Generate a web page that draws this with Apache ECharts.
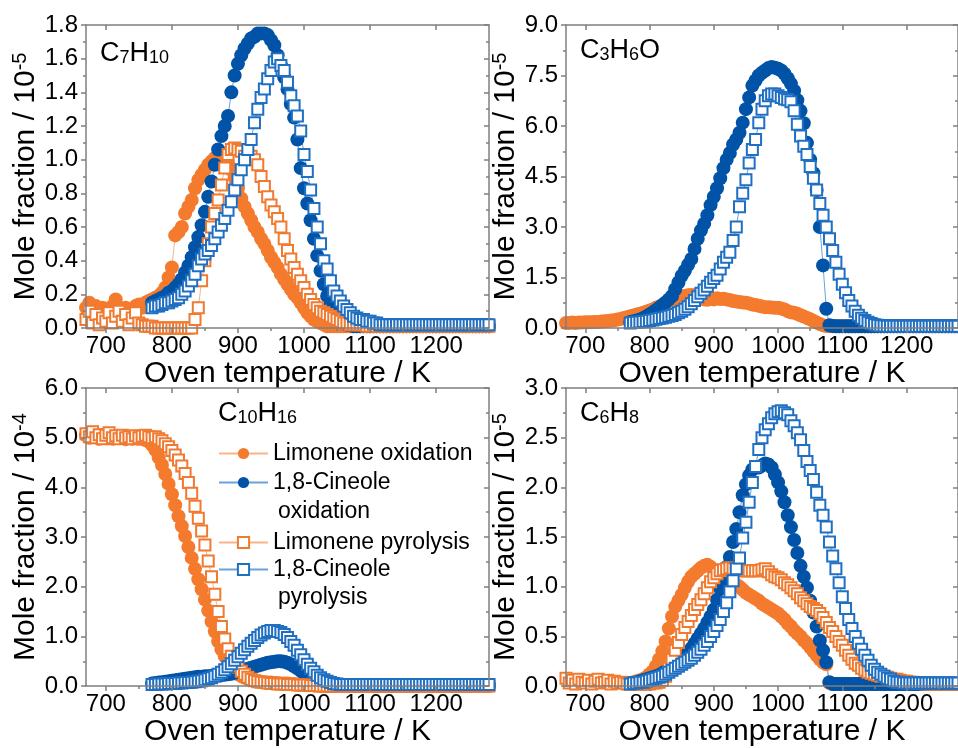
<!DOCTYPE html>
<html>
<head>
<meta charset="utf-8">
<script src="https://cdn.jsdelivr.net/npm/echarts@6/dist/echarts.min.js"></script>
<style>
html, body { margin: 0; padding: 0; background: #fff; }
#main { width: 958px; height: 748px; }
</style>
</head>
<body>
<div id="main"></div>
<script>
// oven temperatures (K): limonene runs start at 670 K, cineole runs at 770 K
var tempsLim = [
  670,675,680,685,690,695,700,705,710,715,
  720,725,730,735,740,745,750,755,760,765,
  770,775,780,785,790,795,800,805,810,815,
  820,825,830,835,840,845,850,855,860,865,
  870,875,880,885,890,895,900,905,910,915,
  920,925,930,935,940,945,950,955,960,965,
  970,975,980,985,990,995,1000,1005,1010,1015,
  1020,1025,1030,1035,1040,1045,1050,1055,1060,1065,
  1070,1075,1080,1085,1090,1095,1100,1105,1110,1115,
  1120,1125,1130,1135,1140,1145,1150,1155,1160,1165,
  1170,1175,1180,1185,1190,1195,1200,1205,1210,1215,
  1220,1225,1230,1235,1240,1245,1250,1255,1260,1265,
  1270,1275,1280
];
var tempsCin = tempsLim.slice(20);

var xTicks = [700, 800, 900, 1000, 1100, 1200];
var xMinorTicks = [750, 850, 950, 1050, 1150, 1250];

// ---- C7H10 (1e-5) ----
var c7h10LimOx = [
  0.12,0.15,0.10,0.13,0.11,0.12,0.10,0.09,0.13,0.17,
  0.11,0.10,0.12,0.09,0.11,0.13,0.14,0.12,0.15,0.16,
  0.17,0.18,0.19,0.21,0.24,0.30,0.36,0.55,0.57,0.60,
  0.68,0.72,0.76,0.83,0.88,0.91,0.94,0.97,0.99,1.01,
  1.02,1.03,1.02,0.98,0.94,0.89,0.83,0.77,0.72,0.68,
  0.64,0.60,0.57,0.53,0.50,0.46,0.42,0.39,0.36,0.32,
  0.29,0.26,0.23,0.20,0.18,0.15,0.12,0.09,0.07,0.05,
  0.04,0.03,0.02,0.01,0.01,0.01,0.01,0.01,0.01,0.01,
  0.01,0.01,0.01,0.01,0.01,0.01,0.01,0.01,0.01,0.01,
  0.01,0.01,0.01,0.01,0.01,0.01,0.01,0.01,0.01,0.01,
  0.01,0.01,0.01,0.01,0.01,0.01,0.01,0.01,0.01,0.01,
  0.01,0.01,0.01,0.01,0.01,0.01,0.01,0.01,0.01,0.01,
  0.01,0.01,0.01
];
var c7h10CinOx = [
  0.15,0.16,0.17,0.18,0.19,0.21,0.22,0.24,0.26,0.29,
  0.33,0.37,0.42,0.48,0.54,0.61,0.69,0.78,0.87,0.97,
  1.06,1.14,1.20,1.26,1.40,1.50,1.57,1.62,1.66,1.69,
  1.72,1.73,1.75,1.75,1.75,1.74,1.71,1.68,1.62,1.56,
  1.49,1.42,1.33,1.25,1.12,0.95,0.83,0.74,0.64,0.53,
  0.43,0.34,0.26,0.19,0.14,0.10,0.07,0.05,0.03,0.02,
  0.02,0.01,0.01,0.01,0.01,0.01,0.01,0.01,0.01,0.01,
  0.01,0.01,0.01,0.01,0.01,0.01,0.01,0.01,0.01,0.01,
  0.01,0.01,0.01,0.01,0.01,0.01,0.01,0.01,0.01,0.01,
  0.01,0.01,0.01,0.01,0.01,0.01,0.01,0.01,0.01,0.01,
  0.01,0.01,0.01
];
var c7h10LimPy = [
  0.05,0.10,0.03,0.08,0.02,0.06,0.04,0.09,0.03,0.07,
  0.10,0.04,0.08,0.02,0.06,0.09,0.03,0.02,0.01,0.01,
  0.01,0.00,0.00,0.00,0.00,0.00,0.00,0.00,0.00,0.00,
  0.00,0.00,0.00,0.05,0.12,0.28,0.40,0.50,0.60,0.68,
  0.76,0.85,0.95,1.03,1.06,1.07,1.06,1.05,1.02,1.01,
  1.02,1.00,0.97,0.90,0.84,0.78,0.73,0.69,0.65,0.60,
  0.53,0.46,0.41,0.36,0.32,0.28,0.24,0.20,0.17,0.14,
  0.12,0.10,0.09,0.08,0.07,0.06,0.05,0.04,0.03,0.03,
  0.02,0.02,0.02,0.02,0.02,0.01,0.01,0.01,0.01,0.01,
  0.01,0.01,0.01,0.01,0.01,0.01,0.01,0.01,0.01,0.01,
  0.01,0.01,0.01,0.01,0.01,0.01,0.01,0.01,0.01,0.01,
  0.01,0.01,0.01,0.01,0.01,0.01,0.01,0.01,0.01,0.01,
  0.01,0.01,0.01
];
var c7h10CinPy = [
  0.12,0.13,0.13,0.14,0.15,0.15,0.16,0.17,0.18,0.20,
  0.22,0.25,0.28,0.32,0.37,0.41,0.44,0.46,0.49,0.53,
  0.57,0.61,0.65,0.70,0.75,0.82,0.88,0.94,1.00,1.06,
  1.12,1.22,1.30,1.37,1.42,1.48,1.53,1.58,1.60,1.56,
  1.53,1.46,1.38,1.32,1.26,1.17,1.03,0.93,0.82,0.71,
  0.60,0.50,0.40,0.35,0.28,0.22,0.19,0.16,0.13,0.11,
  0.09,0.07,0.06,0.05,0.05,0.04,0.04,0.03,0.03,0.02,
  0.02,0.02,0.02,0.02,0.02,0.02,0.02,0.02,0.02,0.02,
  0.02,0.02,0.02,0.02,0.02,0.02,0.02,0.02,0.02,0.02,
  0.02,0.02,0.02,0.02,0.02,0.02,0.02,0.02,0.02,0.02,
  0.02,0.02,0.02
];

// ---- C3H6O (1e-5) ----
var c3h6oLimOx = [
  0.15,0.15,0.16,0.15,0.16,0.16,0.17,0.17,0.17,0.18,
  0.18,0.19,0.20,0.21,0.22,0.23,0.25,0.27,0.30,0.32,
  0.35,0.37,0.40,0.42,0.45,0.48,0.52,0.55,0.60,0.64,
  0.68,0.72,0.76,0.80,0.84,0.88,0.92,0.95,0.97,0.98,
  0.97,0.93,0.88,0.85,0.84,0.86,0.85,0.88,0.86,0.87,
  0.85,0.83,0.80,0.79,0.77,0.76,0.75,0.73,0.70,0.68,
  0.66,0.64,0.62,0.62,0.61,0.60,0.60,0.58,0.55,0.50,
  0.47,0.45,0.42,0.38,0.34,0.30,0.26,0.21,0.16,0.12,
  0.08,0.06,0.05,0.05,0.05,0.05,0.05,0.05,0.05,0.05,
  0.05,0.05,0.05,0.05,0.05,0.05,0.05,0.05,0.05,0.05,
  0.05,0.05,0.05,0.05,0.05,0.05,0.05,0.05,0.05,0.05,
  0.05,0.05,0.05,0.05,0.05,0.05,0.05,0.05,0.05,0.05,
  0.05,0.05,0.05
];
var c3h6oCinOx = [
  0.18,0.20,0.22,0.25,0.29,0.34,0.40,0.46,0.53,0.60,
  0.68,0.76,0.85,0.95,1.15,1.35,1.55,1.70,1.88,2.05,
  2.35,2.65,2.90,3.10,3.35,3.65,3.90,4.15,4.45,4.75,
  5.00,5.20,5.45,5.60,5.80,6.10,6.50,6.85,7.20,7.35,
  7.50,7.58,7.65,7.72,7.75,7.73,7.70,7.65,7.55,7.42,
  7.26,7.05,6.77,6.45,6.08,5.50,5.00,4.60,4.10,3.00,
  1.86,0.57,0.08,0.06,0.05,0.05,0.05,0.05,0.05,0.05,
  0.05,0.05,0.05,0.05,0.05,0.05,0.05,0.05,0.05,0.05,
  0.05,0.05,0.05,0.05,0.05,0.05,0.05,0.05,0.05,0.05,
  0.05,0.05,0.05,0.05,0.05,0.05,0.05,0.05,0.05,0.05,
  0.05,0.05,0.05
];
var c3h6oCinPy = [
  0.15,0.16,0.17,0.18,0.19,0.20,0.22,0.24,0.26,0.28,
  0.30,0.32,0.35,0.37,0.40,0.45,0.50,0.56,0.63,0.72,
  0.82,0.93,1.03,1.13,1.24,1.36,1.47,1.57,1.75,1.95,
  2.10,2.25,2.60,3.00,3.60,4.00,4.40,4.90,5.30,5.60,
  6.10,6.50,6.75,6.90,6.95,6.95,6.90,6.85,6.80,6.78,
  6.72,6.45,6.05,5.70,5.40,5.15,4.80,4.45,4.10,3.70,
  3.35,3.00,2.65,2.30,1.95,1.60,1.30,1.05,0.82,0.65,
  0.50,0.38,0.29,0.22,0.17,0.13,0.10,0.08,0.07,0.06,
  0.05,0.05,0.05,0.05,0.05,0.05,0.05,0.05,0.05,0.05,
  0.05,0.05,0.05,0.05,0.05,0.05,0.05,0.05,0.05,0.05,
  0.05,0.05,0.05
];

// ---- C10H16 (1e-4) ----
var c10h16LimOx = [
  5.05,5.00,5.08,5.02,4.98,5.05,5.00,5.04,4.98,5.02,
  5.00,5.03,4.97,5.00,4.98,5.02,4.98,4.98,4.95,4.92,
  4.85,4.75,4.60,4.45,4.27,4.07,3.86,3.64,3.42,3.22,
  3.02,2.80,2.58,2.36,2.15,1.95,1.74,1.52,1.30,1.10,
  0.90,0.74,0.60,0.48,0.38,0.30,0.24,0.20,0.17,0.15,
  0.13,0.11,0.10,0.09,0.08,0.07,0.07,0.06,0.06,0.05,
  0.05,0.05,0.04,0.04,0.03,0.03,0.03,0.02,0.02,0.01,
  0.01,0.00,0.00,0.00,0.00,0.00,0.00,0.00,0.00,0.00,
  0.00,0.00,0.00,0.00,0.00,0.00,0.00,0.00,0.00,0.00,
  0.00,0.00,0.00,0.00,0.00,0.00,0.00,0.00,0.00,0.00,
  0.00,0.00,0.00,0.00,0.00,0.00,0.00,0.00,0.00,0.00,
  0.00,0.00,0.00,0.00,0.00,0.00,0.00,0.00,0.00,0.00,
  0.00,0.00,0.00
];
var c10h16CinOx = [
  0.05,0.06,0.07,0.08,0.09,0.10,0.11,0.12,0.13,0.14,
  0.15,0.16,0.17,0.18,0.19,0.19,0.20,0.20,0.21,0.21,
  0.22,0.22,0.23,0.24,0.25,0.27,0.29,0.31,0.33,0.35,
  0.37,0.39,0.41,0.43,0.45,0.47,0.48,0.49,0.50,0.50,
  0.49,0.47,0.44,0.40,0.36,0.31,0.26,0.21,0.16,0.12,
  0.09,0.06,0.04,0.03,0.02,0.02,0.02,0.02,0.02,0.02,
  0.02,0.02,0.02,0.02,0.02,0.02,0.02,0.02,0.02,0.02,
  0.02,0.02,0.02,0.02,0.02,0.02,0.02,0.02,0.02,0.02,
  0.02,0.02,0.02,0.02,0.02,0.02,0.02,0.02,0.02,0.02,
  0.02,0.02,0.02,0.02,0.02,0.02,0.02,0.02,0.02,0.02,
  0.02,0.02,0.02
];
var c10h16LimPy = [
  5.08,5.02,5.12,5.00,5.06,4.98,5.05,5.10,5.00,5.04,
  4.98,5.05,5.00,5.02,4.98,5.04,5.00,5.03,5.05,5.02,
  5.00,5.02,4.98,4.94,4.88,4.82,4.74,4.65,4.55,4.43,
  4.28,4.10,3.88,3.62,3.38,3.12,2.84,2.52,2.20,1.85,
  1.50,1.20,0.95,0.75,0.60,0.48,0.38,0.30,0.24,0.18,
  0.14,0.11,0.09,0.08,0.07,0.06,0.05,0.05,0.04,0.04,
  0.04,0.03,0.03,0.03,0.02,0.02,0.02,0.02,0.01,0.01,
  0.01,0.00,0.00,0.00,0.00,0.00,0.00,0.00,0.00,0.00,
  0.00,0.00,0.00,0.00,0.00,0.00,0.00,0.00,0.00,0.00,
  0.00,0.00,0.00,0.00,0.00,0.00,0.00,0.00,0.00,0.00,
  0.00,0.00,0.00,0.00,0.00,0.00,0.00,0.00,0.00,0.00,
  0.00,0.00,0.00,0.00,0.00,0.00,0.00,0.00,0.00,0.00,
  0.00,0.00,0.00
];
var c10h16CinPy = [
  0.03,0.03,0.04,0.04,0.04,0.05,0.05,0.05,0.06,0.06,
  0.07,0.07,0.08,0.09,0.10,0.11,0.13,0.15,0.17,0.20,
  0.24,0.28,0.33,0.39,0.45,0.52,0.59,0.66,0.73,0.80,
  0.86,0.92,0.98,1.03,1.07,1.10,1.12,1.12,1.10,1.08,
  1.04,0.98,0.90,0.82,0.72,0.63,0.53,0.44,0.36,0.29,
  0.22,0.17,0.13,0.10,0.07,0.05,0.04,0.03,0.03,0.03,
  0.03,0.03,0.03,0.03,0.03,0.03,0.03,0.03,0.03,0.03,
  0.03,0.03,0.03,0.03,0.03,0.03,0.03,0.03,0.03,0.03,
  0.03,0.03,0.03,0.03,0.03,0.03,0.03,0.03,0.03,0.03,
  0.03,0.03,0.03,0.03,0.03,0.03,0.03,0.03,0.03,0.03,
  0.03,0.03,0.03
];

// ---- C6H8 (1e-5) ----
var c6h8LimOx = [
  0.03,0.04,0.05,0.06,0.07,0.09,0.12,0.15,0.20,0.27,
  0.35,0.45,0.58,0.70,0.80,0.86,0.92,0.99,1.05,1.10,
  1.13,1.16,1.19,1.21,1.22,1.20,1.17,1.14,1.11,1.08,
  1.05,1.03,1.02,1.02,1.00,0.97,0.94,0.92,0.90,0.88,
  0.86,0.83,0.81,0.79,0.77,0.75,0.73,0.70,0.67,0.63,
  0.60,0.56,0.53,0.50,0.46,0.43,0.39,0.35,0.31,0.27,
  0.24,0.22,0.03,0.02,0.02,0.02,0.02,0.02,0.02,0.02,
  0.02,0.02,0.02,0.02,0.02,0.02,0.02,0.02,0.02,0.02,
  0.02,0.02,0.02,0.02,0.02,0.02,0.02,0.02,0.02,0.02,
  0.02,0.02,0.02,0.02,0.02,0.02,0.02,0.02,0.02,0.02,
  0.02,0.02,0.02
];
var c6h8CinOx = [
  0.03,0.03,0.04,0.05,0.06,0.07,0.08,0.09,0.10,0.11,
  0.13,0.15,0.17,0.19,0.21,0.24,0.27,0.30,0.34,0.38,
  0.43,0.48,0.53,0.58,0.64,0.70,0.77,0.87,0.98,1.08,
  1.20,1.30,1.45,1.58,1.75,1.92,2.03,2.12,2.18,2.20,
  2.20,2.22,2.24,2.23,2.20,2.13,2.05,1.96,1.85,1.72,
  1.60,1.47,1.34,1.21,1.10,0.99,0.86,0.74,0.60,0.46,
  0.36,0.24,0.04,0.02,0.02,0.02,0.02,0.02,0.02,0.02,
  0.02,0.02,0.02,0.02,0.02,0.02,0.02,0.02,0.02,0.02,
  0.02,0.02,0.02,0.02,0.02,0.02,0.02,0.02,0.02,0.02,
  0.02,0.02,0.02,0.02,0.02,0.02,0.02,0.02,0.02,0.02,
  0.02,0.02,0.02
];
var c6h8LimPy = [
  0.08,0.03,0.06,0.02,0.07,0.04,0.03,0.06,0.02,0.05,
  0.07,0.03,0.04,0.06,0.02,0.05,0.03,0.04,0.03,0.02,
  0.02,0.02,0.02,0.02,0.02,0.02,0.02,0.03,0.03,0.04,
  0.06,0.10,0.18,0.27,0.36,0.44,0.52,0.59,0.65,0.71,
  0.77,0.82,0.87,0.93,0.99,1.05,1.09,1.13,1.16,1.17,
  1.18,1.19,1.18,1.17,1.16,1.16,1.16,1.16,1.16,1.16,
  1.16,1.17,1.18,1.15,1.12,1.10,1.09,1.07,1.04,1.02,
  0.99,0.96,0.93,0.89,0.86,0.83,0.80,0.78,0.76,0.73,
  0.69,0.64,0.59,0.55,0.50,0.45,0.41,0.36,0.31,0.27,
  0.23,0.21,0.18,0.16,0.14,0.13,0.12,0.11,0.10,0.10,
  0.09,0.08,0.07,0.07,0.06,0.05,0.05,0.04,0.04,0.03,
  0.03,0.03,0.02,0.02,0.02,0.02,0.02,0.02,0.02,0.02,
  0.02,0.02,0.02
];
var c6h8CinPy = [
  0.02,0.03,0.03,0.04,0.04,0.05,0.06,0.07,0.08,0.09,
  0.10,0.12,0.14,0.16,0.18,0.20,0.22,0.24,0.26,0.28,
  0.31,0.34,0.37,0.41,0.45,0.50,0.55,0.61,0.67,0.75,
  0.84,0.95,1.06,1.18,1.29,1.49,1.65,1.85,2.05,2.21,
  2.38,2.50,2.58,2.64,2.70,2.74,2.76,2.77,2.75,2.73,
  2.67,2.62,2.55,2.48,2.37,2.26,2.17,2.08,1.95,1.82,
  1.72,1.60,1.45,1.31,1.18,1.04,0.90,0.78,0.67,0.58,
  0.50,0.43,0.37,0.31,0.26,0.21,0.17,0.14,0.12,0.10,
  0.08,0.07,0.05,0.04,0.04,0.03,0.03,0.03,0.03,0.03,
  0.03,0.03,0.03,0.03,0.03,0.03,0.03,0.03,0.03,0.03,
  0.03,0.03,0.03
];

var FONT = 'Liberation Sans';
var ORANGE = '#f47b2e', ORANGE_LINE = '#f9b38a', ORANGE_SQ = '#f07a30';
var BLUE = '#0053a6', BLUE_LINE = '#6aa2da', BLUE_SQ = '#1f6fc2';
var AXIS_GRAY = '#7f7f7f';

var panels = [
  { grid: {left: 86, top: 25, width: 403, height: 303}, yMax: 1.8, yStep: 0.2, exp: '-5',
    label: '{m|C}{s|7}{m|H}{s|10}', labelPos: [100, 40],
    limOx: c7h10LimOx, limOxT: tempsLim, cinOx: c7h10CinOx, limPy: c7h10LimPy, cinPy: c7h10CinPy },
  { grid: {left: 566, top: 25, width: 404, height: 303}, yMax: 9, yStep: 1.5, exp: '-5',
    label: '{m|C}{s|3}{m|H}{s|6}{m|O}', labelPos: [580, 37],
    limOx: c3h6oLimOx, limOxT: tempsLim, cinOx: c3h6oCinOx, limPy: null, cinPy: c3h6oCinPy },
  { grid: {left: 86, top: 388, width: 403, height: 303}, yMax: 6, yStep: 1, exp: '-4',
    label: '{m|C}{s|10}{m|H}{s|16}', labelPos: [218, 400],
    limOx: c10h16LimOx, limOxT: tempsLim, cinOx: c10h16CinOx, limPy: c10h16LimPy, cinPy: c10h16CinPy },
  { grid: {left: 566, top: 388, width: 404, height: 303}, yMax: 3, yStep: 0.5, exp: '-5',
    label: '{m|C}{s|6}{m|H}{s|8}', labelPos: [580, 400],
    limOx: c6h8LimOx, limOxT: tempsCin, cinOx: c6h8CinOx, limPy: c6h8LimPy, cinPy: c6h8CinPy }
];

function pairs(ts, vs) {
  return ts.map(function (t, i) { return [t, vs[i]]; });
}

var grids = [], xAxes = [], yAxes = [], series = [], titles = [], graphics = [];
var axisLineStyle = {color: AXIS_GRAY, width: 1.5};

panels.forEach(function (p, g) {
  grids.push(p.grid);
  var xBase = {
    gridIndex: g, type: 'value', min: 670, max: 1280, z: 4,
    splitLine: {show: false}, axisLabel: {show: false}, axisLine: {show: false}
  };
  // bottom, major ticks + labels + name
  xAxes.push(echarts.util.merge({
    position: 'bottom',
    axisLine: {show: true, onZero: false, lineStyle: axisLineStyle},
    axisTick: {customValues: xTicks, length: 5, lineStyle: axisLineStyle},
    axisLabel: {show: true, customValues: xTicks, fontSize: 24, color: '#000', fontFamily: FONT, margin: 6,
      formatter: function (v) { return String(v); }},
    name: 'Oven temperature / K', nameLocation: 'middle', nameGap: 28,
    nameTextStyle: {fontSize: 30, color: '#000', fontFamily: FONT}
  }, xBase, false));
  xAxes.push(echarts.util.merge({
    position: 'bottom',
    axisTick: {customValues: xMinorTicks, length: 3, lineStyle: axisLineStyle}
  }, xBase, false));
  xAxes.push(echarts.util.merge({
    position: 'top',
    axisLine: {show: true, onZero: false, lineStyle: axisLineStyle},
    axisTick: {customValues: xTicks, length: 5, inside: true, lineStyle: axisLineStyle}
  }, xBase, false));
  xAxes.push(echarts.util.merge({
    position: 'top',
    axisTick: {customValues: xMinorTicks, length: 3, inside: true, lineStyle: axisLineStyle}
  }, xBase, false));

  yAxes.push({
    gridIndex: g, type: 'value', position: 'left', min: 0, max: p.yMax, interval: p.yStep, z: 4,
    splitLine: {show: false},
    axisLine: {show: true, onZero: false, lineStyle: axisLineStyle},
    axisTick: {show: true, length: 5, lineStyle: axisLineStyle},
    minorTick: {show: true, splitNumber: 2, length: 3, lineStyle: axisLineStyle},
    axisLabel: {fontSize: 24, color: '#000', fontFamily: FONT, margin: 8,
      formatter: function (v) { return v.toFixed(1); }},
    name: '{t|Mole fraction / 10}{e|' + p.exp + '}',
    nameLocation: 'middle', nameRotate: 90, nameGap: 43,
    nameTextStyle: {color: '#000', fontFamily: FONT, fontSize: 30,
      rich: {t: {fontSize: 30, fontFamily: FONT, color: '#000'},
             e: {fontSize: 20, fontFamily: FONT, color: '#000', verticalAlign: 'top'}}}
  });
  yAxes.push({
    gridIndex: g, type: 'value', position: 'right', min: 0, max: p.yMax, interval: p.yStep, z: 4,
    splitLine: {show: false},
    axisLine: {show: true, onZero: false, lineStyle: axisLineStyle},
    axisTick: {show: true, inside: true, length: 5, lineStyle: axisLineStyle},
    minorTick: {show: true, splitNumber: 2, length: 3, lineStyle: axisLineStyle},
    axisLabel: {show: false}
  });

  var xi = g * 4, yi = g * 2;
  function add(name, ts, vs, filled, color, lineColor) {
    series.push({
      type: 'line', name: name, xAxisIndex: xi, yAxisIndex: yi,
      data: pairs(ts, vs),
      symbol: filled ? 'circle' : 'rect',
      symbolSize: filled ? 14 : 11,
      itemStyle: filled ? {color: color} : {color: '#fff', borderColor: color, borderWidth: 2},
      lineStyle: {color: lineColor, width: 1},
      emphasis: {disabled: true},
      animation: false
    });
  }
  add('Limonene oxidation', p.limOxT, p.limOx, true, ORANGE, ORANGE_LINE);
  add('1,8-Cineole oxidation', tempsCin, p.cinOx, true, BLUE, BLUE_LINE);
  if (p.limPy) add('Limonene pyrolysis', tempsLim, p.limPy, false, ORANGE_SQ, ORANGE_LINE);
  add('1,8-Cineole pyrolysis', tempsCin, p.cinPy, false, BLUE_SQ, BLUE_LINE);

  titles.push({
    text: p.label, left: p.labelPos[0], top: p.labelPos[1], padding: 0,
    textStyle: {fontWeight: 'normal', rich: {
      m: {fontSize: 27, fontFamily: FONT, fontWeight: 'normal', color: '#000'},
      s: {fontSize: 18, fontFamily: FONT, fontWeight: 'normal', color: '#000', verticalAlign: 'bottom'}
    }}
  });

  // white margins so that markers are cut at the frame like in the plotted figure
  var r = p.grid, m = 10;
  [[r.left - m, r.top - m, r.width + 2 * m, m],
   [r.left - m, r.top + r.height, r.width + 2 * m, m],
   [r.left - m, r.top, m, r.height],
   [r.left + r.width, r.top, m, r.height]].forEach(function (b) {
    graphics.push({type: 'rect', z: 3, silent: true,
      shape: {x: b[0], y: b[1], width: b[2], height: b[3]}, style: {fill: '#fff'}});
  });
});

// legend continuation lines
graphics.push({type: 'text', z: 5, left: 278, top: 500,
  style: {text: 'oxidation', fontSize: 23, fontFamily: FONT, fill: '#000'}});
graphics.push({type: 'text', z: 5, left: 278, top: 586,
  style: {text: 'pyrolysis', fontSize: 23, fontFamily: FONT, fill: '#000'}});

var legendBase = {
  orient: 'vertical', left: 218, padding: 0, itemWidth: 49, itemHeight: 14,
  textStyle: {fontSize: 23, color: '#000', fontFamily: FONT},
  formatter: function (n) { return n.indexOf('1,8-Cineole') === 0 ? '1,8-Cineole' : n; },
  selectedMode: false
};

var myChart = echarts.init(document.getElementById('main'));
myChart.setOption({
  backgroundColor: '#fff',
  animation: false,
  title: titles,
  legend: [
    echarts.util.merge({top: 442, itemGap: 6, data: ['Limonene oxidation', '1,8-Cineole oxidation']}, legendBase, false),
    echarts.util.merge({top: 531, itemGap: 4, data: ['Limonene pyrolysis', '1,8-Cineole pyrolysis']}, legendBase, false)
  ],
  grid: grids,
  xAxis: xAxes,
  yAxis: yAxes,
  series: series,
  graphic: graphics
});
</script>
</body>
</html>
